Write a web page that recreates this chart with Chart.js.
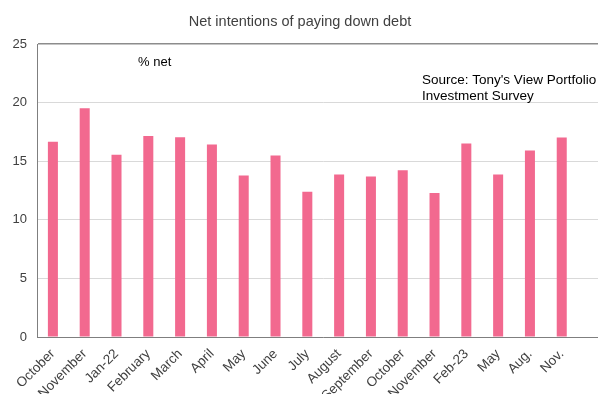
<!DOCTYPE html>
<html>
<head>
<meta charset="utf-8">
<script src="https://cdn.jsdelivr.net/npm/chart.js@4/dist/chart.umd.min.js"></script>
<style>
  html, body { margin: 0; padding: 0; background: #fff; overflow: hidden; }
  #debtChart { display: block; }
</style>
</head>
<body>
<canvas id="debtChart" width="614" height="394"></canvas>
<script>
// survey rounds (last slot left empty so the axis runs on past the final bar)
const surveyRounds = [
  "October", "November", "Jan-22", "February", "March", "April", "May", "June",
  "July", "August", "September", "October", "November", "Feb-23", "May", "Aug.", "Nov.", ""
];
const netPayDown = [
  16.66, 19.51, 15.54, 17.14, 17.05, 16.43, 13.77, 15.48,
  12.40, 13.86, 13.69, 14.23, 12.29, 16.51, 13.86, 15.91, 17.03, null
];
const yTicks = [0, 5, 10, 15, 20, 25];

const FONT = "'Liberation Sans', Arial, sans-serif";
const barPink = "#f2698f";

// free text on the canvas: title, unit note and source line
const notes = {
  id: "notes",
  afterDraw(chart) {
    const ctx = chart.ctx;
    ctx.save();
    ctx.fillStyle = "#404040";
    ctx.font = "14.5px " + FONT;
    ctx.textAlign = "center";
    ctx.textBaseline = "middle";
    ctx.fillText("Net intentions of paying down debt", 300, 22);

    ctx.fillStyle = "#000";
    ctx.font = "13px " + FONT;
    ctx.textAlign = "left";
    ctx.fillText("% net", 138, 62);
    ctx.font = "13.5px " + FONT;
    ctx.fillText("Source: Tony's View Portfolio", 422, 80);
    ctx.fillText("Investment Survey", 422, 96);
    ctx.restore();
  }
};

new Chart(document.getElementById("debtChart"), {
  type: "bar",
  data: {
    labels: surveyRounds,
    datasets: [{
      label: "% net",
      data: netPayDown,
      backgroundColor: barPink,
      borderWidth: 0,
      barPercentage: 0.63,
      categoryPercentage: 0.5
    }]
  },
  options: {
    responsive: false,
    animation: false,
    layout: { padding: { top: 44, left: 0, right: 0, bottom: 0 } },
    plugins: {
      legend: { display: false },
      title: { display: false },
      tooltip: { enabled: false }
    },
    scales: {
      x: {
        grid: { display: false, drawTicks: false },
        border: { color: "#7f7f7f", width: 1 },
        ticks: {
          color: "#404040",
          font: { family: FONT, size: 13.5 },
          minRotation: 45,
          maxRotation: 45,
          autoSkip: false,
          padding: 9
        },
        afterFit(scale) { scale.height = 57; }
      },
      y: {
        min: 0,
        max: 25,
        afterBuildTicks(scale) { scale.ticks = yTicks.map(v => ({ value: v })); },
        grid: {
          drawTicks: false,
          color: ctx => ctx.tick && ctx.tick.value === 25 ? "#8c8c8c" : "#d9d9d9",
          lineWidth: ctx => ctx.tick && ctx.tick.value === 25 ? 1.5 : 1
        },
        border: { color: "#7f7f7f", width: 1 },
        ticks: {
          color: "#404040",
          font: { family: FONT, size: 13 },
          padding: 10
        },
        afterFit(scale) { scale.width = 37; }
      }
    }
  },
  plugins: [notes]
});
</script>
</body>
</html>
